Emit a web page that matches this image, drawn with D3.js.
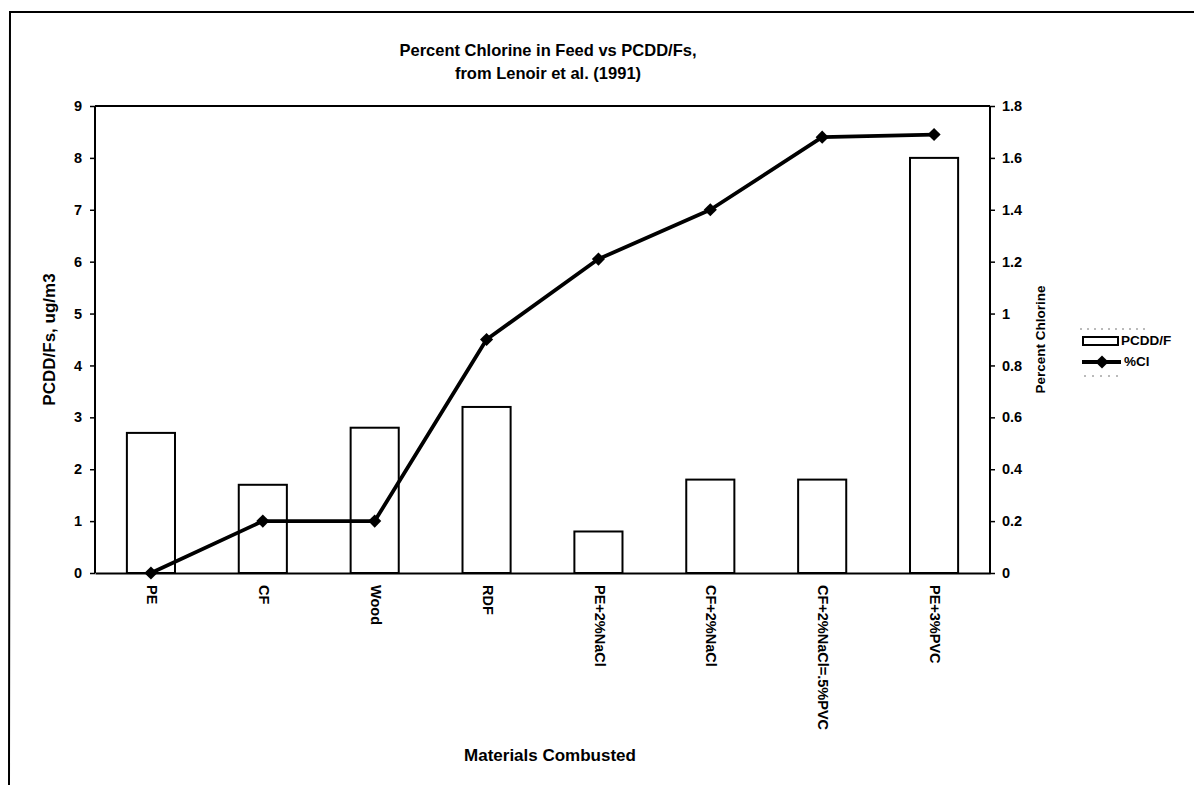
<!DOCTYPE html>
<html>
<head>
<meta charset="utf-8">
<script src="https://cdn.jsdelivr.net/npm/d3@7"></script>
<style>
  html, body { margin: 0; padding: 0; background: #fff; }
  svg text { font-family: "Liberation Sans", Arial, sans-serif; font-weight: bold; fill: #000; }
</style>
</head>
<body>
<svg id="chart" width="1194" height="785"></svg>
<script>
// Materials burned and the measured results (Lenoir et al., 1991)
const materials = ["PE", "CF", "Wood", "RDF", "PE+2%NaCl", "CF+2%NaCl", "CF+2%NaCl=.5%PVC", "PE+3%PVC"];
const pcddValues = [2.7, 1.7, 2.8, 3.2, 0.8, 1.8, 1.8, 8.0];       // ug/m3
const chlorineValues = [0.0, 0.2, 0.2, 0.9, 1.21, 1.4, 1.68, 1.69]; // percent Cl in feed
const leftTicks = [0, 1, 2, 3, 4, 5, 6, 7, 8, 9];
const rightTicks = [0, 0.2, 0.4, 0.6, 0.8, 1, 1.2, 1.4, 1.6, 1.8];

const svg = d3.select("#chart");
const plot = { left: 95, right: 990, top: 106, bottom: 573 };

// Outer frame (top and left edges)
svg.append("path")
  .attr("d", "M9,785 L10,12 L1194,12")
  .attr("fill", "none").attr("stroke", "#000").attr("stroke-width", 2);

// Title
const title = svg.append("text").attr("text-anchor", "middle").style("font-size", "16.5px");
title.append("tspan").attr("x", 548).attr("y", 56).text("Percent Chlorine in Feed vs PCDD/Fs,");
title.append("tspan").attr("x", 548).attr("y", 79).text("from Lenoir et al. (1991)");

// Scales
const x = d3.scaleBand().domain(materials).range([plot.left, plot.right])
  .paddingInner(0.57).paddingOuter(0.285);
const yLeft = d3.scaleLinear().domain([0, 9]).range([plot.bottom, plot.top]);
const yRight = d3.scaleLinear().domain([0, 1.8]).range([plot.bottom, plot.top]);

// Plot area top border
svg.append("line")
  .attr("x1", plot.left).attr("x2", plot.right)
  .attr("y1", plot.top).attr("y2", plot.top)
  .attr("stroke", "#000").attr("stroke-width", 2);

// Bars (PCDD/F)
svg.append("g").selectAll("rect").data(materials).join("rect")
  .attr("x", d => x(d))
  .attr("y", (d, i) => yLeft(pcddValues[i]))
  .attr("width", x.bandwidth())
  .attr("height", (d, i) => yLeft(0) - yLeft(pcddValues[i]))
  .attr("fill", "#fff").attr("stroke", "#000").attr("stroke-width", 2);

// Left axis
const gLeft = svg.append("g").attr("transform", `translate(${plot.left},0)`)
  .call(d3.axisLeft(yLeft).tickValues(leftTicks).tickSize(5).tickPadding(8).tickFormat(d3.format("d")));
// Right axis
const gRight = svg.append("g").attr("transform", `translate(${plot.right},0)`)
  .call(d3.axisRight(yRight).tickValues(rightTicks).tickSize(5).tickPadding(7).tickFormat(d => d === 0 ? "0" : d3.format("")(+d.toFixed(1))));
// Bottom axis
const gBottom = svg.append("g").attr("transform", `translate(0,${plot.bottom})`)
  .call(d3.axisBottom(x).tickSize(0).tickPadding(0));

[gLeft, gRight, gBottom].forEach(g => {
  g.select(".domain").attr("stroke", "#000").attr("stroke-width", 2);
  g.selectAll(".tick line").attr("stroke", "#000").attr("stroke-width", 1.5);
  g.selectAll("text").style("font-size", "14.5px").attr("fill", "#000");
});
gLeft.select(".domain").attr("d", `M0,${plot.top}V${plot.bottom}`);
gRight.select(".domain").attr("d", `M0,${plot.top}V${plot.bottom}`);

gBottom.selectAll(".tick text")
  .style("font-size", "14.5px")
  .attr("text-anchor", "start")
  .attr("dominant-baseline", "middle")
  .attr("dy", null)
  .attr("y", 0)
  .attr("transform", "translate(0,12) rotate(90)");

// Chlorine line with diamond markers
const line = d3.line()
  .x((d, i) => x(materials[i]) + x.bandwidth() / 2)
  .y(d => yRight(d));
svg.append("path").datum(chlorineValues)
  .attr("d", line)
  .attr("fill", "none").attr("stroke", "#000").attr("stroke-width", 3.8)
  .attr("stroke-linejoin", "round");
const diamond = d3.symbol().type(d3.symbolDiamond2).size(110);
svg.append("g").selectAll("path").data(chlorineValues).join("path")
  .attr("d", diamond)
  .attr("transform", (d, i) => `translate(${x(materials[i]) + x.bandwidth() / 2},${yRight(d)})`)
  .attr("fill", "#000");

// Axis titles
svg.append("text").attr("text-anchor", "middle").style("font-size", "17px")
  .attr("transform", `translate(55,${(plot.top + plot.bottom) / 2}) rotate(-90)`)
  .text("PCDD/Fs, ug/m3");
svg.append("text").attr("text-anchor", "middle").style("font-size", "13.5px")
  .attr("transform", `translate(1045,${(plot.top + plot.bottom) / 2}) rotate(-90)`)
  .text("Percent Chlorine");
svg.append("text").attr("text-anchor", "middle").style("font-size", "17px")
  .attr("x", 550).attr("y", 761)
  .text("Materials Combusted");

// Legend
const legend = svg.append("g");
legend.append("line").attr("x1", 1080).attr("x2", 1150).attr("y1", 329).attr("y2", 329)
  .attr("stroke", "#777").attr("stroke-width", 1).attr("stroke-dasharray", "2,5");
legend.append("line").attr("x1", 1084).attr("x2", 1120).attr("y1", 376).attr("y2", 376)
  .attr("stroke", "#777").attr("stroke-width", 1).attr("stroke-dasharray", "2,6");
legend.append("rect").attr("x", 1083).attr("y", 337).attr("width", 35).attr("height", 8)
  .attr("fill", "#fff").attr("stroke", "#000").attr("stroke-width", 2);
legend.append("text").attr("x", 1121).attr("y", 341).attr("dominant-baseline", "middle")
  .style("font-size", "13.5px").text("PCDD/F");
legend.append("line").attr("x1", 1082).attr("x2", 1121).attr("y1", 362).attr("y2", 362)
  .attr("stroke", "#000").attr("stroke-width", 3.8);
legend.append("path").attr("d", diamond).attr("transform", "translate(1102,362)").attr("fill", "#000");
legend.append("text").attr("x", 1124).attr("y", 362).attr("dominant-baseline", "middle")
  .style("font-size", "13.5px").text("%Cl");
</script>
</body>
</html>
